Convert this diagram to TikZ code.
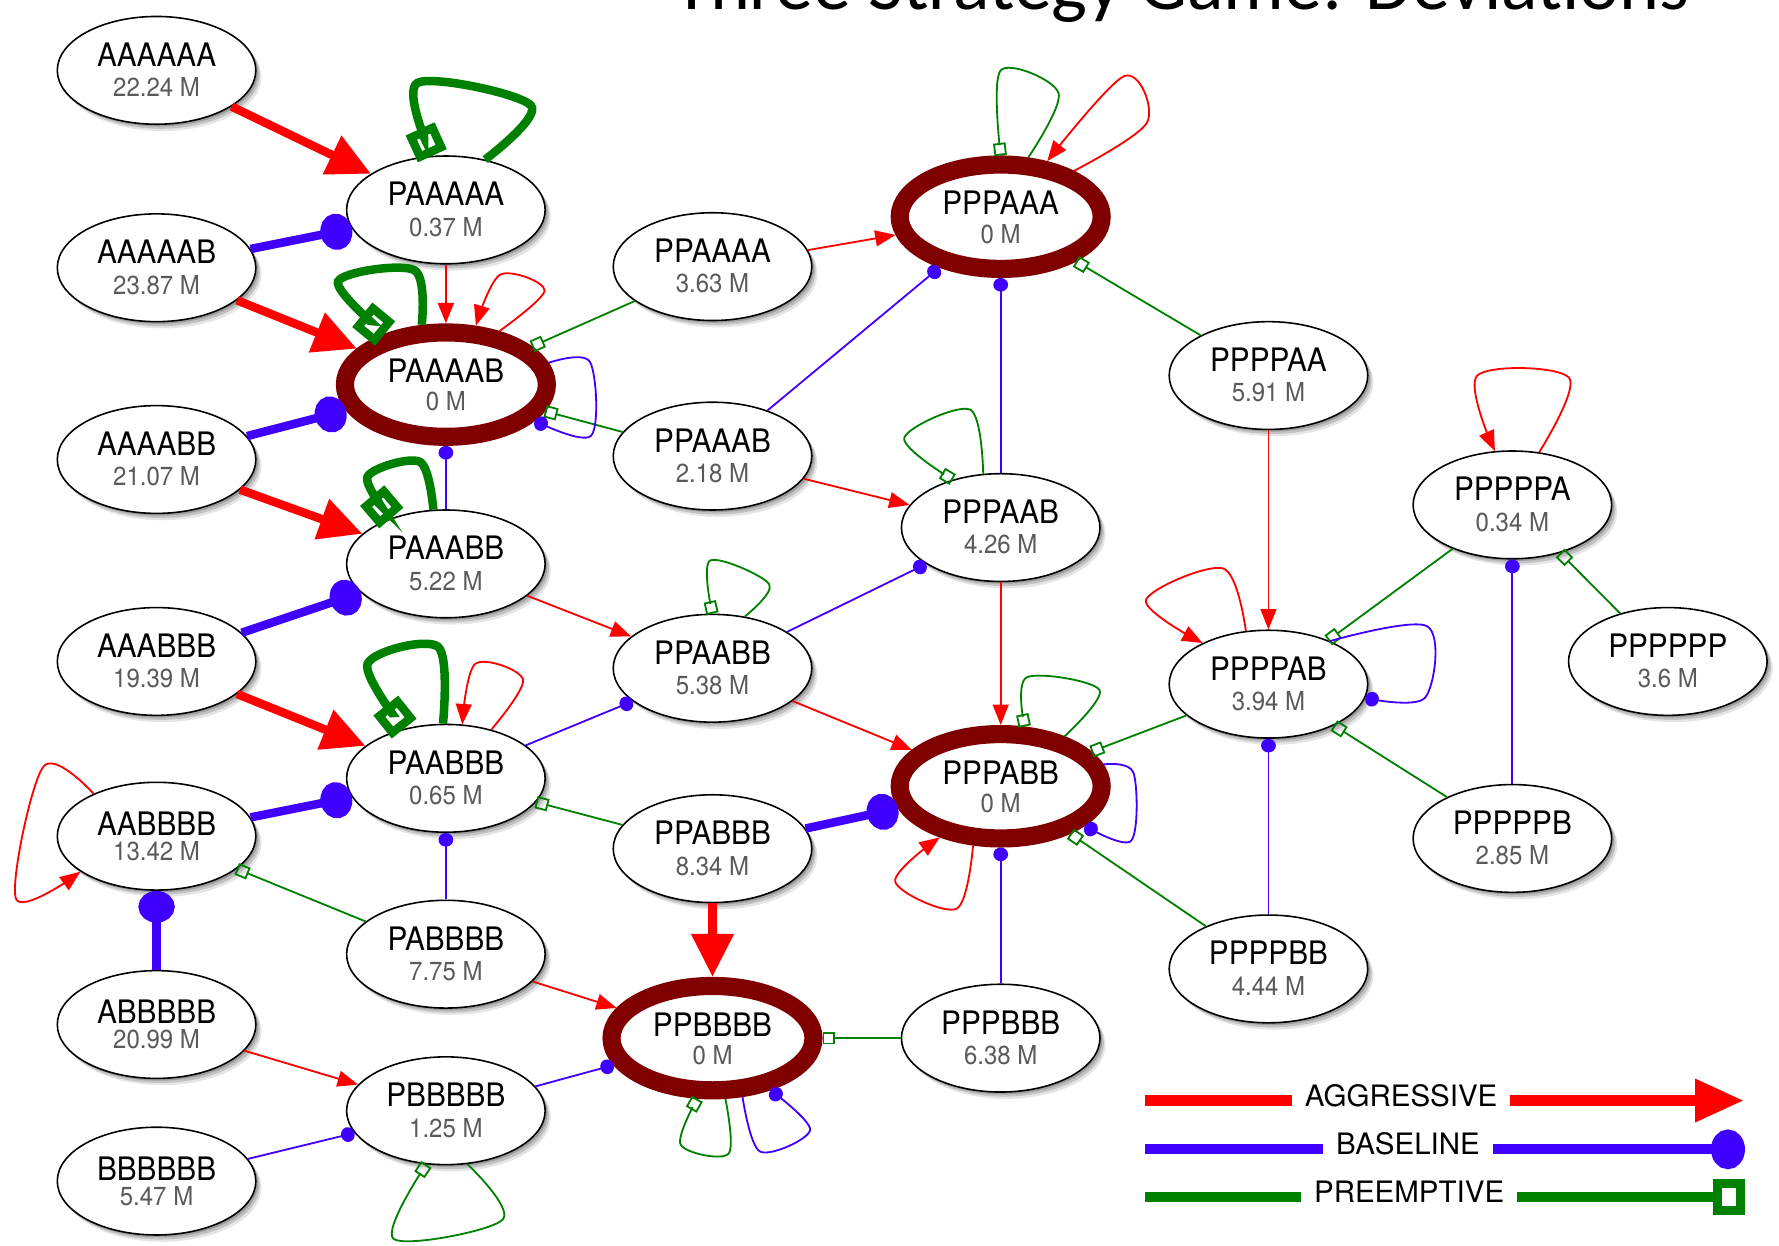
\documentclass[tikz,border=0pt]{standalone}
\usepackage{fontspec}
\setmainfont{TeX Gyre Heros}
\newfontfamily\titlefont{Carlito}
\usetikzlibrary{arrows.meta,shapes.geometric,shadows}

\definecolor{aggr}{HTML}{FF0000}
\definecolor{basec}{HTML}{4000FF}
\definecolor{prec}{HTML}{008000}
\definecolor{ringc}{HTML}{800000}
\definecolor{valc}{HTML}{5A5A5A}

\tikzset{
  softshadow/.style={
    drop shadow={shadow xshift=2pt,shadow yshift=-2pt,opacity=.18,fill=black},
    drop shadow={shadow xshift=3.5pt,shadow yshift=-4pt,opacity=.15,fill=black},
    drop shadow={shadow xshift=5pt,shadow yshift=-6pt,opacity=.10,fill=black}},
  st/.style={ellipse,draw=black,line width=1.4pt,fill=white,inner sep=0pt,
    minimum width=175pt,minimum height=95pt,softshadow},
  eq/.style={ellipse,draw=ringc,line width=16pt,fill=white,inner sep=0pt,
    minimum width=178pt,minimum height=92pt,softshadow},
  nametext/.style={inner sep=0pt,font=\fontsize{28.5}{28.5}\selectfont},
  valtext/.style={inner sep=0pt,text=valc,font=\fontsize{23}{23}\selectfont},
  legtext/.style={inner sep=0pt,font=\fontsize{26}{26}\selectfont},
  agg/.style={draw=aggr,line width=1.6pt,-{Triangle[length=18pt,width=14pt]}},
  aggT/.style={draw=aggr,line width=7.5pt,-{Triangle[length=38pt,width=36pt]}},
  bas/.style={draw=basec,line width=1.6pt,-{Circle[length=12pt,width=13pt]}},
  basT/.style={draw=basec,line width=7.5pt,-{Circle[length=28pt,width=32pt]}},
  pre/.style={draw=prec,line width=1.6pt,-{Square[open,length=11pt,width=11pt]}},
  preT/.style={draw=prec,line width=7.5pt,-{Square[open,length=26pt,width=28pt]}},
  lp/.style={smooth,tension=.55},
}

% state node: style, name, x, y, value, name offset, value offset
\newcommand\stnode[7]{%
  \node[#1] (#2) at (#3,-#4) {};
  \node[nametext] (#2-name) at (#3,-#4+#6) {\scalebox{.92}[1]{#2}};
  \node[valtext] (#2-val) at (#3,-#4-#7) {\scalebox{.92}[1]{#5}};
}

\begin{document}
\begin{tikzpicture}[x=1pt,y=1pt]
\fill[white] (0,0) rectangle (1568,-1098);
\useasboundingbox (0,0) rectangle (1568,-1098);

\node[anchor=base,font=\titlefont\fontsize{67}{67}\selectfont] (title) at (1041,-8)
  {Three Strategy Game: Deviations};

% states
\stnode{st}{AAAAAA}{138}{62}{22.24 M}{14}{15}
\stnode{st}{AAAAAB}{138}{236}{23.87 M}{14}{15}
\stnode{st}{AAAABB}{138}{405}{21.07 M}{14}{15}
\stnode{st}{AAABBB}{138}{583}{19.39 M}{14}{15}
\stnode{st}{AABBBB}{138}{737}{13.42 M}{11}{13}
\stnode{st}{ABBBBB}{138}{903}{20.99 M}{11}{13}
\stnode{st}{BBBBBB}{138}{1041}{5.47 M}{11}{13}
\stnode{st}{PAAAAA}{393}{185}{0.37 M}{14}{15}
\stnode{eq}{PAAAAB}{393}{339}{0 M}{12}{15}
\stnode{st}{PAAABB}{393}{497}{5.22 M}{14}{15}
\stnode{st}{PAABBB}{393}{686}{0.65 M}{14}{15}
\stnode{st}{PABBBB}{393}{841}{7.75 M}{14}{15}
\stnode{st}{PBBBBB}{393}{979}{1.25 M}{14}{15}
\stnode{st}{PPAAAA}{628}{235}{3.63 M}{14}{15}
\stnode{st}{PPAAAB}{628}{402}{2.18 M}{14}{15}
\stnode{st}{PPAABB}{628}{589}{5.38 M}{14}{15}
\stnode{st}{PPABBB}{628}{748}{8.34 M}{14}{15}
\stnode{eq}{PPBBBB}{628}{915}{0 M}{12}{15}
\stnode{eq}{PPPAAA}{882}{191}{0 M}{12}{15}
\stnode{st}{PPPAAB}{882}{465}{4.26 M}{14}{15}
\stnode{eq}{PPPABB}{882}{693}{0 M}{12}{15}
\stnode{st}{PPPBBB}{882}{915}{6.38 M}{14}{15}
\stnode{st}{PPPPAA}{1118}{331}{5.91 M}{14}{15}
\stnode{st}{PPPPAB}{1118}{603}{3.94 M}{14}{15}
\stnode{st}{PPPPBB}{1118}{854}{4.44 M}{14}{15}
\stnode{st}{PPPPPA}{1333}{445}{0.34 M}{14}{15}
\stnode{st}{PPPPPB}{1333}{739}{2.85 M}{14}{15}
\stnode{st}{PPPPPP}{1470}{583}{3.6 M}{14}{15}

% heavy deviations
\draw[aggT] (AAAAAA) -- (PAAAAA);
\draw[basT] (AAAAAB) -- (PAAAAA);
\draw[aggT] (AAAAAB) -- (PAAAAB);
\draw[basT] (AAAABB) -- (PAAAAB);
\draw[aggT] (AAAABB) -- (PAAABB);
\draw[basT] (AAABBB) -- (PAAABB);
\draw[aggT] (AAABBB) -- (PAABBB);
\draw[basT] (AABBBB) -- (PAABBB);
\draw[basT] (ABBBBB) -- (AABBBB);
\draw[aggT] (PPABBB) -- (PPBBBB);
\draw[basT] (PPABBB) -- (PPPABB);

% light deviations
\draw[agg] (PAAAAA) -- (PAAAAB);
\draw[pre] (PPAAAA) -- (PAAAAB);
\draw[agg] (PPAAAA) -- (PPPAAA);
\draw[pre] (PPAAAB) -- (PAAAAB);
\draw[bas] (PAAABB) -- (PAAAAB);
\draw[bas] (PPAAAB) -- (PPPAAA);
\draw[bas] (PPPAAB) -- (PPPAAA);
\draw[pre] (PPPPAA) -- (PPPAAA);
\draw[agg] (PPAAAB) -- (PPPAAB);
\draw[agg] (PAAABB) -- (PPAABB);
\draw[bas] (PPAABB) -- (PPPAAB);
\draw[bas] (PAABBB) -- (PPAABB);
\draw[pre] (PPABBB) -- (PAABBB);
\draw[bas] (PABBBB) -- (PAABBB);
\draw[pre] (PABBBB) -- (AABBBB);
\draw[agg] (PPAABB) -- (PPPABB);
\draw[agg] (PPPAAB) -- (PPPABB);
\draw[pre] (PPPPAB) -- (PPPABB);
\draw[pre] (PPPPBB) -- (PPPABB);
\draw[bas] (PPPBBB) -- (PPPABB);
\draw[agg] (PABBBB) -- (PPBBBB);
\draw[pre] (PPPBBB) -- (PPBBBB);
\draw[bas] (PBBBBB) -- (PPBBBB);
\draw[agg] (ABBBBB) -- (PBBBBB);
\draw[bas] (BBBBBB) -- (PBBBBB);
\draw[agg] (PPPPAA) -- (PPPPAB);
\draw[pre] (PPPPPA) -- (PPPPAB);
\draw[pre] (PPPPPP) -- (PPPPPA);
\draw[bas] (PPPPPB) -- (PPPPPA);
\draw[pre] (PPPPPB) -- (PPPPAB);
\draw[bas] (PPPPBB) -- (PPPPAB);

% self loops
\draw[preT,lp] plot coordinates {(PAAAAA.52) (468,-93) (368,-73) (PAAAAA.104)};
\draw[preT,lp] plot coordinates {(PAAAAB.112) (365,-238) (298,-248) (PAAAAB.140)};
\draw[agg,lp] plot coordinates {(PAAAAB.45) (480,-256) (441,-242) (PAAAAB.63)};
\draw[bas,lp] plot coordinates {(PAAAAB.12) (520,-319) (521,-384) (PAAAAB.-22)};
\draw[preT,lp] plot coordinates {(PAAABB.103) (370,-407) (324,-420) (PAAABB.140)};
\draw[preT,lp] plot coordinates {(PAABBB.93) (386,-570) (324,-585) (PAABBB.130)};
\draw[agg,lp] plot coordinates {(PAABBB.47) (461,-599) (419,-585) (PAABBB.73)};
\draw[agg,lp] plot coordinates {(AABBBB.146) (38,-676) (14,-792) (AABBBB.205)};
\draw[pre,lp] plot coordinates {(PPPAAA.65) (933,-82) (882,-62) (PPPAAA.90)};
\draw[agg,lp] plot coordinates {(PPPAAA.32) (1011,-108) (991,-67) (PPPAAA.50)};
\draw[pre,lp] plot coordinates {(PPPAAB.108) (855,-361) (797,-386) (PPPAAB.135)};
\draw[pre,lp] plot coordinates {(PPAABB.58) (678,-515) (626,-494) (PPAABB.90)};
\draw[pre,lp] plot coordinates {(PPPABB.38) (969,-608) (905,-597) (PPPABB.68)};
\draw[bas,lp] plot coordinates {(PPPABB.12) (999,-681) (997,-741) (PPPABB.-25)};
\draw[agg,lp] plot coordinates {(PPPABB.245) (843,-801) (789,-777) (PPPABB.220)};
\draw[pre,lp] plot coordinates {(PPBBBB.282) (642,-1017) (600,-1009) (PPBBBB.256)};
\draw[bas,lp] plot coordinates {(PPBBBB.297) (670,-1015) (714,-996) (PPBBBB.318)};
\draw[pre,lp] plot coordinates {(PBBBBB.292) (443,-1075) (347,-1092) (PBBBBB.250)};
\draw[agg,lp] plot coordinates {(PPPPAB.113) (1078,-501) (1010,-529) (PPPPAB.148)};
\draw[bas,lp] plot coordinates {(PPPPAB.35) (1258,-552) (1256,-615) (PPPPAB.-8)};
\draw[agg,lp] plot coordinates {(PPPPPA.63) (1383,-333) (1302,-331) (PPPPPA.108)};

% legend
\coordinate (lgRa) at (1009,-970);
\coordinate (lgRb) at (1537,-970);
\node[legtext,inner xsep=11pt] (lgR) at (1235,-966) {AGGRESSIVE};
\draw[draw=aggr,line width=9pt] (lgRa) -- (lgRa -| lgR.west);
\draw[draw=aggr,line width=9pt,-{Triangle[length=43pt,width=36pt]}] (lgR.east |- lgRb) -- (lgRb);

\coordinate (lgBa) at (1009,-1013);
\coordinate (lgBb) at (1538,-1013);
\node[legtext,inner xsep=11pt] (lgB) at (1241,-1008) {BASELINE};
\draw[draw=basec,line width=9pt] (lgBa) -- (lgBa -| lgB.west);
\draw[draw=basec,line width=9pt,-{Circle[length=30pt,width=35pt]}] (lgB.east |- lgBb) -- (lgBb);

\coordinate (lgPa) at (1009,-1055);
\coordinate (lgPb) at (1538,-1055);
\node[legtext,inner xsep=11pt] (lgP) at (1242,-1050) {PREEMPTIVE};
\draw[draw=prec,line width=9pt] (lgPa) -- (lgPa -| lgP.west);
\draw[draw=prec,line width=8pt,-{Square[open,length=28pt,width=32pt]}] (lgP.east |- lgPb) -- (lgPb);
\end{tikzpicture}
\end{document}
